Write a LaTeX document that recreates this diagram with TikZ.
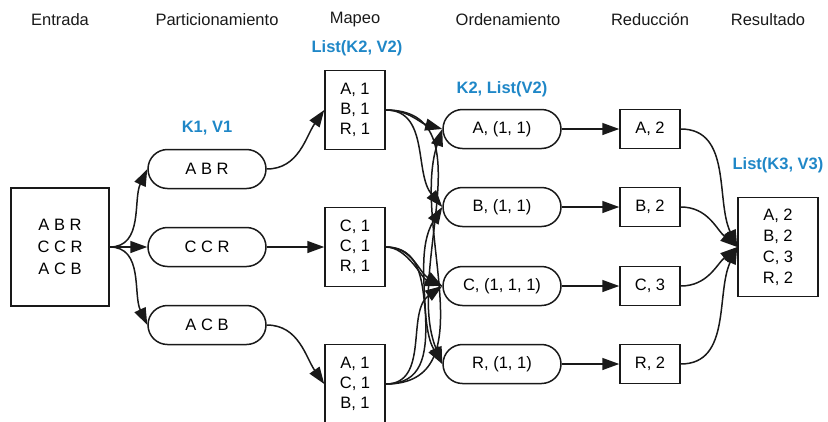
\documentclass[tikz,border=0pt]{standalone}
\usepackage{fontspec}
\setmainfont{Liberation Sans}
\usetikzlibrary{arrows.meta}
\definecolor{MyBlue}{rgb}{0.12,0.53,0.78}
\definecolor{MyDark}{rgb}{0.1,0.1,0.1}
\newcommand{\etiq}[1]{{\color{MyBlue}{\textbf{#1}}}}

\tikzset{
  pill/.style={draw=MyDark, line width=1.5pt, rounded corners=19.5pt, minimum width=118pt, minimum height=39pt, inner sep=0pt},
  caja/.style={draw=MyDark, line width=1.5pt, minimum width=60pt, minimum height=39pt, inner sep=0pt, align=center},
  titulo/.style={text=MyDark},
  flecha/.style={draw=MyDark, line width=1.5pt, -{Triangle[length=17pt,width=12pt]}}
}

\begin{document}
\begin{tikzpicture}[x=1pt, y=-1pt, font=\fontsize{16.5}{20}\selectfont]
  \useasboundingbox (0,0) rectangle (828,421);
  \clip (0,0) rectangle (828,421);

  % titulos
  \node[titulo] (t1) at (60,20) {Entrada};
  \node[titulo] (t2) at (217,20) {Particionamiento};
  \node[titulo] (t3) at (355,20) {Mapeo};
  \node[titulo] (t4) at (508,20) {Ordenamiento};
  \node[titulo] (t5) at (650,20) {Reducción};
  \node[titulo] (t6) at (768,20) {Resultado};

  \node (e1) at (207,128) {\etiq{K1, V1}};
  \node (e2) at (357,48) {\etiq{List(K2, V2)}};
  \node (e3) at (502,89) {\etiq{K2, List(V2)}};
  \node (e4) at (778,165) {\etiq{List(K3, V3)}};

  % entrada
  \node[caja, minimum width=98pt, minimum height=118pt, font=\fontsize{16.5}{22}\selectfont] (entrada) at (60,247) {A B R\\C C R\\A C B};

  % particionamiento
  \node[pill] (part1) at (207,169) {A B R};
  \node[pill] (part2) at (207,247) {C C R};
  \node[pill] (part3) at (207,325) {A C B};

  % mapeo
  \node[caja, minimum height=79pt] (map1) at (355,110) {A, 1\\B, 1\\R, 1};
  \node[caja, minimum height=79pt] (map2) at (355,247) {C, 1\\C, 1\\R, 1};
  \node[caja, minimum height=79pt] (map3) at (355,384) {A, 1\\C, 1\\B, 1};

  % ordenamiento
  \node[pill] (orda) at (502,129) {A, (1, 1)};
  \node[pill] (ordb) at (502,207) {B, (1, 1)};
  \node[pill] (ordc) at (502,286) {C, (1, 1, 1)};
  \node[pill] (ordr) at (502,364) {R, (1, 1)};

  % reduccion
  \node[caja] (reda) at (650,129) {A, 2};
  \node[caja] (redb) at (650,207) {B, 2};
  \node[caja] (redc) at (650,286) {C, 3};
  \node[caja] (redr) at (650,364) {R, 2};

  % resultado
  \node[caja, minimum width=80pt, minimum height=99pt, font=\fontsize{16.5}{21}\selectfont] (res) at (778,247) {A, 2\\B, 2\\C, 3\\R, 2};

  \draw[flecha] (entrada.east) to[out=0, in=245] (part1.west);
  \draw[flecha] (entrada.east) -- (part2.west);
  \draw[flecha] (entrada.east) to[out=0, in=115] (part3.west);

  \draw[flecha] (part1.east) to[out=0, in=235] (map1.west);
  \draw[flecha] (part2.east) -- (map2.west);
  \draw[flecha] (part3.east) to[out=0, in=125] (map3.west);

  \draw[flecha] (map1.east) to[out=0, in=165] (orda.west);
  \draw[flecha] (map1.east) to[out=0, in=130] (ordb.west);
  \draw[flecha] (map1.east) to[out=0, in=112] (ordr.west);
  \draw[flecha] (map2.east) to[out=0, in=150] (ordc.west);
  \draw[flecha] (map2.east) to[out=0, in=160, looseness=0.8] (ordc.west);
  \draw[flecha] (map2.east) to[out=0, in=120] (ordr.west);
  \draw[flecha] (map3.east) to[out=0, in=252] (orda.west);
  \draw[flecha] (map3.east) to[out=0, in=238] (ordb.west);
  \draw[flecha] (map3.east) to[out=0, in=215] (ordc.west);

  \draw[flecha] (orda) -- (reda);
  \draw[flecha] (ordb) -- (redb);
  \draw[flecha] (ordc) -- (redc);
  \draw[flecha] (ordr) -- (redr);

  \draw[flecha] (reda.east) to[out=0, in=115] (res.west);
  \draw[flecha] (redb.east) to[out=0, in=140] (res.west);
  \draw[flecha] (redc.east) to[out=0, in=220] (res.west);
  \draw[flecha] (redr.east) to[out=0, in=245] (res.west);
\end{tikzpicture}
\end{document}
